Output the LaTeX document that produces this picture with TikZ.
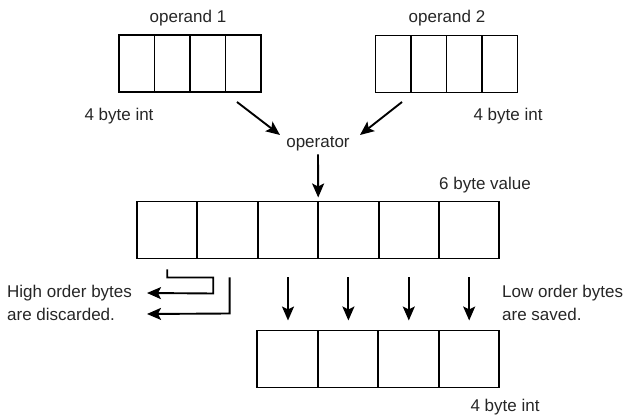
\documentclass[tikz,border=0pt]{standalone}
\usepackage{fontspec}
\setmainfont{Liberation Sans}
\usetikzlibrary{arrows.meta}
\begin{document}
\begin{tikzpicture}[x=1pt,y=-1pt,
  cell/.style={draw,line width=1.9pt,inner sep=0pt,outer sep=0pt},
  smallcell/.style={cell,minimum width=35.5pt,minimum height=57pt},
  bigcell/.style={cell,minimum width=60.4pt,minimum height=57pt},
  lbl/.style={font=\fontsize{17}{20}\selectfont,inner sep=0pt,text=black!85},
  arr/.style={line width=1.9pt,-{Stealth[length=14pt,width=12pt,inset=3pt]}}]
\useasboundingbox (0,0) rectangle (627,419);
% operand 1
\foreach \i in {1,...,4}
  \node[smallcell] (a\i) at ({119+35.5*(\i-0.5)},63.5) {};
% operand 2
\foreach \i in {1,...,4}
  \node[smallcell] (b\i) at ({375.5+35.5*(\i-0.5)},64) {};
% 6 byte value
\foreach \i in {1,...,6}
  \node[bigcell] (c\i) at ({137+60.4*(\i-0.5)},230) {};
% result 4 byte int
\foreach \i in {1,...,4}
  \node[bigcell] (d\i) at ({257+60.5*(\i-0.5)},359) {};
% labels
\node[lbl] (op1) at (188,18) {operand 1};
\node[lbl] (op2) at (447,18) {operand 2};
\node[lbl] (int1) at (119,116) {4 byte int};
\node[lbl] (int2) at (508,116) {4 byte int};
\node[lbl] (op) at (318,144) {operator};
\node[lbl] (six) at (485,185) {6 byte value};
\node[lbl,anchor=west] (hi) at (7,293) {High order bytes};
\node[lbl,anchor=west] (dis) at (7,314) {are discarded.};
\node[lbl,anchor=west] (lo) at (502,293) {Low order bytes};
\node[lbl,anchor=west] (sav) at (502,314) {are saved.};
\node[lbl] (int3) at (505,407) {4 byte int};
% arrows into operator
\coordinate (s1) at (237,102);
\coordinate (e1) at (280,135);
\coordinate (s2) at (402,102);
\coordinate (e2) at (360,135);
\draw[arr] (s1) -- (e1);
\draw[arr] (s2) -- (e2);
\draw[arr] ([yshift=-3pt]op.south) -- ([yshift=4pt]c3.north east);
% saved bytes
\foreach \i/\j in {3/1,4/2,5/3,6/4}
  \draw[arr] ([yshift=-19pt]c\i.south) -- ([yshift=10pt]c\i.south |- d\j.north);
% discarded bytes
\coordinate (t1) at (147,293);
\draw[arr] ([yshift=-11pt]c1.south) -- ++(0,8) -- ++(46,0) -- ++(0,16) -- (t1 |- hi.east);
\draw[arr] ([xshift=2pt,yshift=-19pt]c2.south) -- ++(0,36) -- (t1 |- dis.east);
\end{tikzpicture}
\end{document}
